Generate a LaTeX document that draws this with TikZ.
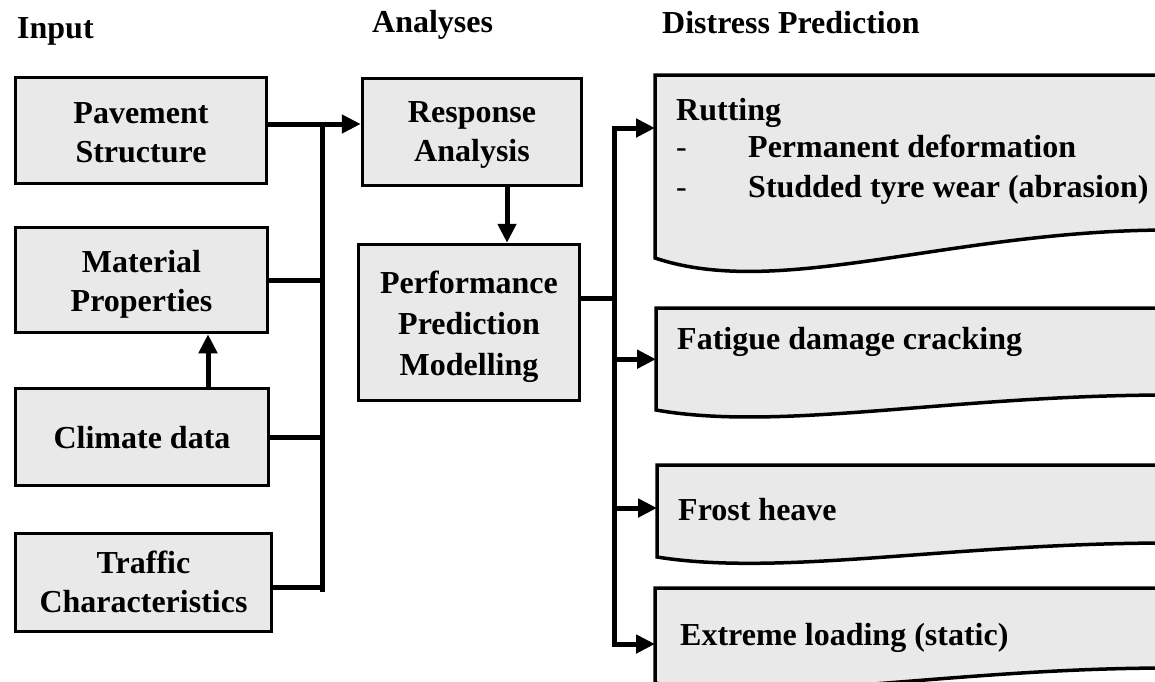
\documentclass[tikz,border=0pt]{standalone}
\usepackage{fontspec}
\setmainfont{Liberation Serif}
\usetikzlibrary{arrows.meta,calc}
\definecolor{boxfill}{RGB}{233,233,233}
\tikzset{
  lbl/.style={font=\fontsize{32}{39}\selectfont\bfseries, text=black, inner sep=0pt},
  head/.style={lbl, anchor=base west},
  txt/.style={lbl, anchor=base west},
  dashmark/.style={font=\fontsize{32}{39}\selectfont, inner sep=0pt, anchor=base west},
  inbox/.style={lbl, draw=black, line width=3.5pt, fill=boxfill, align=center},
  region/.style={inner sep=0pt, anchor=north west},
  docline/.style={draw=black, fill=boxfill, line width=3.5pt, line join=miter},
  conn/.style={line width=5pt},
  tip/.tip={Triangle[length=19pt,width=18pt]},
  arr/.style={line width=5pt, -tip},
  arrboth/.style={line width=5pt, tip-tip},
}
% fixed line height above the first line and depth below the last line
\newcommand{\topstrut}{\rule{0pt}{35pt}}
\newcommand{\botstrut}[1]{\rule[-#1pt]{0pt}{#1pt}}
% wavy-bottomed box: left x, top y, bottom-left y, rise at right end, sag
\newcommand{\distressshape}[5]{%
  \path[docline] (#1,#3) -- (#1,#2) -- (1170,#2) -- (1170,#3-#4)
    .. controls (#1+295,#3-#4) and (#1+125,#3+#5) .. (#1,#3) -- cycle;}
\begin{document}
\begin{tikzpicture}[x=1pt,y=-1pt]
\useasboundingbox (0,0) rectangle (1155,681);
\clip (0,0) rectangle (1155,681);

% column headings
\node[head] (hin) at (17,38) {Input};
\node[head] (han) at (372,32) {Analyses};
\node[head] (hdp) at (662,33) {Distress Prediction};

% input boxes
\node[inbox, minimum width=251pt, minimum height=106pt] (pav) at (141,130.5)
  {\topstrut Pavement\\Structure\botstrut{11}};
\node[inbox, minimum width=252pt, minimum height=105pt] (mat) at (141.5,280)
  {\topstrut Material\\Properties\botstrut{12}};
\node[inbox, minimum width=253pt, minimum height=97pt] (clim) at (142,437)
  {\topstrut Climate data\botstrut{13}};
\node[inbox, minimum width=256pt, minimum height=98pt] (traf) at (143.5,582.5)
  {\topstrut Traffic\\Characteristics\botstrut{15}};

% analysis boxes
\node[inbox, minimum width=219pt, minimum height=107pt] (resp) at (472,132)
  {\topstrut Response\\Analysis\botstrut{16}};
\node[inbox, minimum width=221pt, minimum height=156pt,
      font=\fontsize{32}{41}\selectfont\bfseries] (perf) at (469,322.5)
  {\topstrut Performance\\Prediction\\Modelling\botstrut{12}};

% distress prediction boxes
\distressshape{655}{75}{258}{28}{42}
\distressshape{656}{308}{410}{15}{22}
\distressshape{657}{465}{557}{14}{20}
\distressshape{655}{588}{683}{15}{22}
\node[region, minimum width=500pt, minimum height=183pt] (rut) at (655,75) {};
\node[region, minimum width=499pt, minimum height=102pt] (fat) at (656,308) {};
\node[region, minimum width=498pt, minimum height=92pt] (fro) at (657,465) {};
\node[region, minimum width=500pt, minimum height=95pt] (ext) at (655,588) {};

\node[txt] (rutt) at (676,120) {Rutting};
\node[dashmark] (d1) at (676,157) {-};
\node[txt] (r1) at (748,157) {Permanent deformation};
\node[dashmark] (d2) at (676,197) {-};
\node[txt] (r2) at (748,197) {Studded tyre wear (abrasion)};
\node[txt] (fatt) at (677,349) {Fatigue damage cracking};
\node[txt] (frot) at (678,520) {Frost heave};
\node[txt] (extt) at (680,645) {Extreme loading (static)};

% input collector
\coordinate (j1) at (322,124);
\coordinate (b1) at (322,592);
\draw[arr] (pav.east |- j1) -- (resp.west |- j1);
\draw[conn] (j1) -- (b1);
\draw[conn] (mat.east) -- (mat.east -| j1);
\draw[conn] (clim.east) -- (clim.east -| j1);
\draw[conn] ([yshift=-5pt]traf.east) -- ([yshift=-5pt]traf.east -| j1);

% vertical links
\coordinate (cx) at (208,0);
\draw[arr] (clim.north -| cx) -- (mat.south -| cx);
\coordinate (rx) at (507,0);
\draw[arr] (resp.south -| rx) -- (perf.north -| rx);

% distress distributor
\coordinate (j2) at (614,128);
\coordinate (b2) at (614,644);
\coordinate (py) at (0,298);
\draw[conn] (perf.east |- py) -- (j2 |- py);
\draw[arrboth] (rut.west |- j2) -- (j2) -- (b2) -- (ext.west |- b2);
\draw[arr] (j2 |- fat.west) -- (fat.west);
\draw[arr] (j2 |- 0,508) -- (fro.west |- 0,508);
\end{tikzpicture}
\end{document}
